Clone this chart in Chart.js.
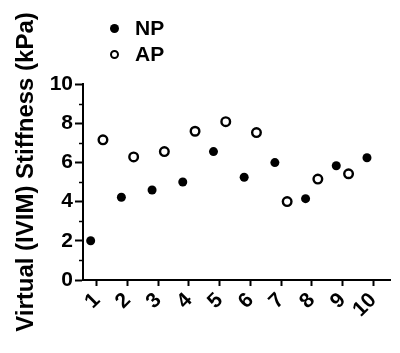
<!DOCTYPE html>
<html>
<head>
<meta charset="utf-8">
<script src="https://cdn.jsdelivr.net/npm/chart.js@4"></script>
<style>
  html, body { margin: 0; padding: 0; background: #fff; }
  #wrap { position: relative; width: 400px; height: 353px; }
  #legend {
    position: absolute; left: 110px; top: 15px;
    font: bold 21px 'Liberation Sans', Arial, sans-serif; color: #000;
  }
  .row { display: flex; align-items: center; height: 26px; }
  .dot { width: 9px; height: 9px; border-radius: 50%; box-sizing: border-box; margin-right: 16px; }
  .dot.filled { background: #000; }
  .dot.open { border: 2px solid #000; background: #fff; }
</style>
</head>
<body>
<div id="wrap">
  <canvas id="chart" width="400" height="353"></canvas>
  <div id="legend">
    <div class="row"><span class="dot filled"></span><span>NP</span></div>
    <div class="row"><span class="dot open"></span><span>AP</span></div>
  </div>
</div>
<script>
const categories = ['1', '2', '3', '4', '5', '6', '7', '8', '9', '10'];
const npValues = [2.0, 4.22, 4.59, 5.0, 6.55, 5.24, 5.99, 4.15, 5.83, 6.24];
const apValues = [7.15, 6.28, 6.55, 7.59, 8.08, 7.52, 4.0, 5.15, 5.42, null];
const yTickLabels = [0, 2, 4, 6, 8, 10];

const FONT = "'Liberation Sans', Arial, sans-serif";
const shift = 0.2; // NP left of the tick, AP right of it

function toPoints(values, dx) {
  return values
    .map((v, i) => (v === null ? null : { x: i + 1 + dx, y: v }))
    .filter(p => p !== null);
}

// short ticks for the unlabelled odd values on the y axis
const minorTicks = {
  id: 'minorTicks',
  afterDraw(chart) {
    const y = chart.scales.y;
    const c = chart.ctx;
    c.save();
    c.strokeStyle = '#000';
    c.lineWidth = 1.5;
    y.ticks.forEach(t => {
      if (yTickLabels.includes(t.value)) return;
      const py = Math.round(y.getPixelForValue(t.value)) + 0.5;
      c.beginPath();
      c.moveTo(y.right - 4, py);
      c.lineTo(y.right, py);
      c.stroke();
    });
    c.restore();
  }
};

const ctx = document.getElementById('chart').getContext('2d');
new Chart(ctx, {
  type: 'scatter',
  data: {
    datasets: [{
      label: 'NP',
      data: toPoints(npValues, -shift),
      pointRadius: 4.5,
      pointBorderWidth: 0,
      pointBackgroundColor: '#000',
      pointBorderColor: '#000'
    }, {
      label: 'AP',
      data: toPoints(apValues, shift),
      pointRadius: 4.3,
      pointBorderWidth: 2.4,
      pointBackgroundColor: '#fff',
      pointBorderColor: '#000'
    }]
  },
  plugins: [minorTicks],
  options: {
    responsive: false,
    animation: false,
    layout: { padding: { top: 84, right: 10, left: 0, bottom: 0 } },
    plugins: {
      legend: { display: false },
      tooltip: { enabled: false }
    },
    scales: {
      x: {
        type: 'linear',
        min: 0.55,
        max: 10.55,
        afterBuildTicks: scale => {
          scale.ticks = categories.map((c, i) => ({ value: i + 1 }));
        },
        afterFit: scale => { scale.height = 73; },
        ticks: {
          autoSkip: false,
          callback: value => categories[value - 1],
          minRotation: 45,
          maxRotation: 45,
          padding: 2,
          color: '#000',
          font: { family: FONT, size: 21, weight: 'bold' }
        },
        grid: {
          drawOnChartArea: false,
          tickLength: 6,
          tickWidth: 2,
          tickColor: '#000'
        },
        border: { color: '#000', width: 2 }
      },
      y: {
        min: 0,
        max: 10,
        afterFit: scale => { scale.width = 83; },
        ticks: {
          stepSize: 1,
          autoSkip: false,
          callback: value => (yTickLabels.includes(value) ? value : ''),
          padding: 2,
          color: '#000',
          font: { family: FONT, size: 21, weight: 'bold' }
        },
        grid: {
          drawOnChartArea: false,
          tickLength: 8,
          tickWidth: 2,
          tickColor: c => (yTickLabels.includes(c.tick.value) ? '#000' : 'rgba(0,0,0,0)')
        },
        border: { color: '#000', width: 2 },
        title: {
          display: true,
          text: '   Virtual (IVIM) Stiffness (kPa)',
          color: '#000',
          padding: { top: 12, bottom: 0 },
          font: { family: FONT, size: 24, weight: 'bold' }
        }
      }
    }
  }
});
</script>
</body>
</html>
